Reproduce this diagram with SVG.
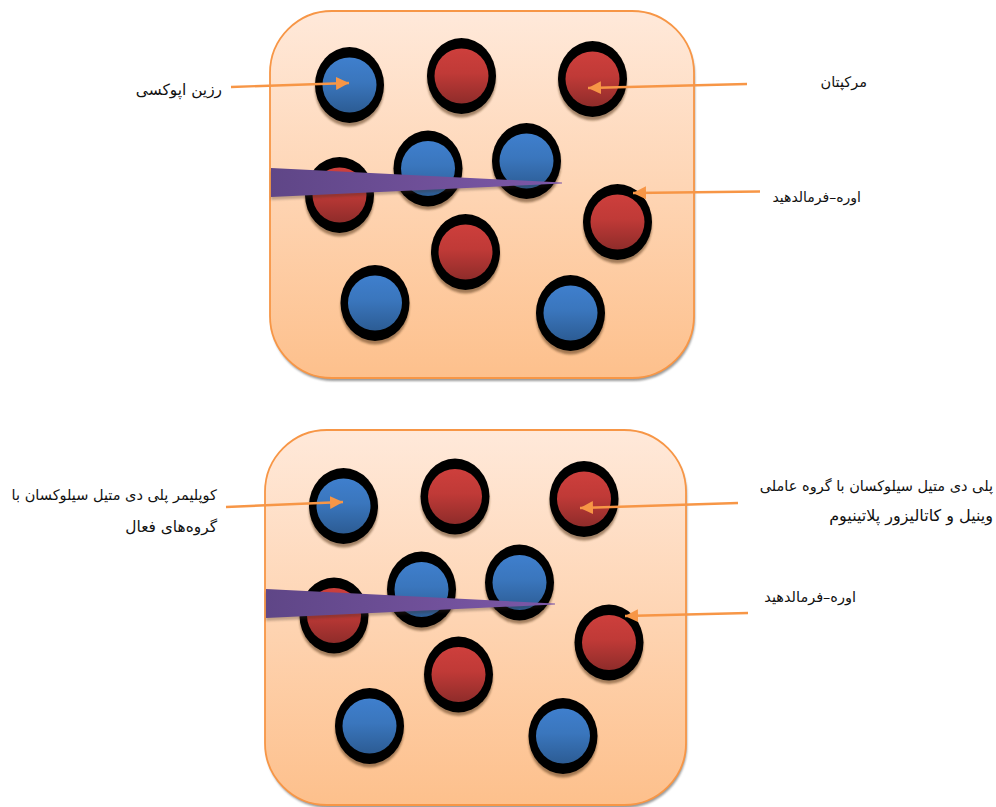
<svg xmlns="http://www.w3.org/2000/svg" xmlns:xlink="http://www.w3.org/1999/xlink" width="996" height="807" viewBox="0 0 996 807">
  <style>
    .panel { stroke: #f79646; stroke-width: 1.8; fill: url(#panelFill); }
    .panel-shadow { fill: #808080; opacity: .8; filter: url(#soft); }
    .ring { fill: #000; }
    .ring-shadow { fill: #5a3a1e; opacity: .55; filter: url(#soft); }
    .blue { fill: url(#blueFill); }
    .red { fill: url(#redFill); }
    .wedge { fill: url(#wedgeFill); }
    .wedge-shadow { fill: #3a2a20; opacity: .3; filter: url(#soft); }
    .link { stroke: #f79646; stroke-width: 2.4; fill: none; marker-end: url(#head); }
    .label { font-family: "DejaVu Sans", "Noto Sans", sans-serif; font-size: 14.500px; fill: #111; direction: rtl; unicode-bidi: plaintext; }
    .wide { font-size: 15.400px; }
    .widest { font-size: 16px; }
    .small { font-size: 14px; }
  </style>
  <defs>
    <linearGradient id="panelFill" x1="0" y1="0" x2="0" y2="1">
      <stop offset="0" stop-color="#ffe9da"/>
      <stop offset="1" stop-color="#fdc08c"/>
    </linearGradient>
    <linearGradient id="blueFill" x1="0" y1="0" x2="0" y2="1">
      <stop offset="0" stop-color="#3f7fcd"/>
      <stop offset=".45" stop-color="#3a76bd"/>
      <stop offset="1" stop-color="#2c5c94"/>
    </linearGradient>
    <linearGradient id="redFill" x1="0" y1="0" x2="0" y2="1">
      <stop offset="0" stop-color="#cd3f3c"/>
      <stop offset=".45" stop-color="#c03a37"/>
      <stop offset="1" stop-color="#8f2c2a"/>
    </linearGradient>
    <linearGradient id="wedgeFill" x1="0" y1="0" x2="1" y2="0">
      <stop offset="0" stop-color="#5f4687"/>
      <stop offset="1" stop-color="#7d58a8"/>
    </linearGradient>
    <filter id="soft" x="-20%" y="-20%" width="140%" height="140%">
      <feGaussianBlur stdDeviation="1"/>
    </filter>
    <marker id="head" markerUnits="userSpaceOnUse" markerWidth="14" markerHeight="14" refX="13" refY="6.5" orient="auto">
      <path d="M0 0 L13 6.5 L0 13 Z" fill="#f79646"/>
    </marker>
    <g id="disc-blue">
      <ellipse class="ring-shadow" cx="0" cy="3.500" rx="34.500" ry="38"/>
      <ellipse class="ring" rx="34.500" ry="38"/>
      <ellipse class="blue" rx="27" ry="27.500"/>
    </g>
    <g id="disc-red">
      <ellipse class="ring-shadow" cx="0" cy="3.500" rx="34.500" ry="38"/>
      <ellipse class="ring" rx="34.500" ry="38"/>
      <ellipse class="red" rx="27" ry="27.500"/>
    </g>
  </defs>

  <!-- Upper chamber -->
  <g id="chamber-upper">
    <rect class="panel-shadow" x="271" y="14" width="424" height="367" rx="62" ry="62"/>
    <rect class="panel" x="270" y="11" width="424" height="367" rx="62" ry="62"/>
  </g>
  <g id="particles-upper">
    <use id="u1" xlink:href="#disc-blue" x="349.500" y="85"/>
    <use id="u2" xlink:href="#disc-red" x="461.500" y="76"/>
    <use id="u3" xlink:href="#disc-red" x="592.500" y="79"/>
    <use id="u4" xlink:href="#disc-red" x="339.500" y="195"/>
    <use id="u5" xlink:href="#disc-blue" x="428" y="168.500"/>
    <use id="u6" xlink:href="#disc-blue" x="526.500" y="161"/>
    <use id="u7" xlink:href="#disc-red" x="617.500" y="222"/>
    <use id="u8" xlink:href="#disc-red" x="465.500" y="252"/>
    <use id="u9" xlink:href="#disc-blue" x="375" y="303"/>
    <use id="u10" xlink:href="#disc-blue" x="570.500" y="313"/>
  </g>
  <g id="wedge-upper">
    <polygon class="wedge-shadow" points="271,171 560,186 271,200"/>
    <polygon class="wedge" points="271,168 562,182.500 562,183.500 271,197"/>
  </g>

  <!-- Lower chamber -->
  <g id="chamber-lower">
    <rect class="panel-shadow" x="266" y="433" width="421" height="375" rx="62" ry="62"/>
    <rect class="panel" x="265" y="430" width="421" height="375" rx="62" ry="62"/>
  </g>
  <g id="particles-lower">
    <use id="l1" xlink:href="#disc-blue" x="343.500" y="506"/>
    <use id="l2" xlink:href="#disc-red" x="455" y="496.500"/>
    <use id="l3" xlink:href="#disc-red" x="584" y="499"/>
    <use id="l4" xlink:href="#disc-red" x="334" y="615.500"/>
    <use id="l5" xlink:href="#disc-blue" x="421.500" y="589.500"/>
    <use id="l6" xlink:href="#disc-blue" x="519.500" y="582.500"/>
    <use id="l7" xlink:href="#disc-red" x="609" y="642.500"/>
    <use id="l8" xlink:href="#disc-red" x="458.500" y="674.500"/>
    <use id="l9" xlink:href="#disc-blue" x="369.500" y="726"/>
    <use id="l10" xlink:href="#disc-blue" x="563" y="736"/>
  </g>
  <g id="wedge-lower">
    <polygon class="wedge-shadow" points="266,592 553,607 266,621"/>
    <polygon class="wedge" points="266,589 555,603.500 555,604.500 266,618"/>
  </g>

  <!-- Leader arrows -->
  <g id="connectors">
    <line class="link" x1="231" y1="87" x2="349" y2="83"/>
    <line class="link" x1="747" y1="84" x2="588" y2="88"/>
    <line class="link" x1="760" y1="191.500" x2="633" y2="193"/>
    <line class="link" x1="226" y1="507" x2="343" y2="502"/>
    <line class="link" x1="738" y1="503" x2="580" y2="508"/>
    <line class="link" x1="748" y1="613" x2="625" y2="616"/>
  </g>

  <!-- Captions -->
  <g id="label-epoxy"><text class="label wide" x="222" y="95">رزین اپوکسی</text></g>
  <g id="label-mercaptan"><text class="label" x="867" y="87">مرکپتان</text></g>
  <g id="label-urea-upper"><text class="label small" x="861" y="202">اوره–فرمالدهید</text></g>
  <g id="label-copolymer">
    <text class="label" x="217" y="500">کوپلیمر پلی دی متیل سیلوکسان با</text>
    <text class="label wide" x="217" y="532">گروه‌های  فعال</text>
  </g>
  <g id="label-pdms">
    <text class="label" x="993" y="491">پلی دی متیل سیلوکسان با گروه عاملی</text>
    <text class="label widest" x="993" y="521">وینیل و کاتالیزور پلاتینیوم</text>
  </g>
  <g id="label-urea-lower"><text class="label" x="856" y="602">اوره–فرمالدهید</text></g>
</svg>
